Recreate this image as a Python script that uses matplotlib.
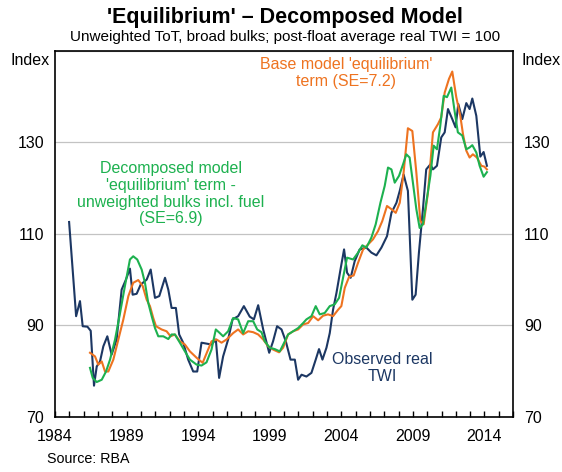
import matplotlib
matplotlib.use("Agg")
import matplotlib.pyplot as plt
from matplotlib.ticker import FixedLocator, FuncFormatter

plt.rcParams['font.family'] = ['Liberation Sans', 'DejaVu Sans']

# Observed real TWI
twi_years = [1984.98, 1985.47, 1985.74, 1985.93, 1986.26, 1986.49, 1986.72, 1986.91,
             1987.14, 1987.37, 1987.65, 1987.95, 1988.30, 1988.65, 1988.95, 1989.23,
             1989.42, 1989.70, 1989.98, 1990.40, 1990.68, 1990.98, 1991.28, 1991.68,
             1991.91, 1992.14, 1992.44, 1992.67, 1992.95, 1993.30, 1993.65, 1993.93,
             1994.23, 1994.58, 1994.93, 1995.23, 1995.46, 1995.74, 1996.09, 1996.40,
             1996.79, 1997.19, 1997.60, 1997.89, 1998.19, 1998.54, 1998.96, 1999.23,
             1999.51, 1999.82, 2000.12, 2000.45, 2000.75, 2000.98, 2001.22, 2001.56,
             2001.91, 2002.21, 2002.44, 2002.68, 2002.96, 2003.19, 2003.42, 2003.66,
             2003.94, 2004.19, 2004.40, 2004.65, 2004.93, 2005.28, 2005.75, 2006.10,
             2006.45, 2006.80, 2007.19, 2007.50, 2007.85, 2008.08, 2008.35, 2008.65,
             2008.96, 2009.19, 2009.42, 2009.70, 2009.93, 2010.22, 2010.40, 2010.68,
             2010.98, 2011.22, 2011.45, 2011.75, 2011.98, 2012.17, 2012.45, 2012.73,
             2012.96, 2013.15, 2013.43, 2013.71, 2013.94, 2014.17]
twi_vals = [112.6, 92.0, 95.3, 89.8, 89.7, 88.8, 76.8, 81.0,
            82.1, 85.4, 87.6, 83.6, 86.9, 97.8, 100.0, 102.4,
            96.7, 96.9, 98.9, 100.0, 102.2, 96.0, 96.4, 100.4,
            97.8, 93.8, 93.8, 88.0, 86.2, 82.5, 79.9, 79.9,
            86.2, 86.0, 85.8, 86.9, 78.5, 83.2, 86.9, 91.3,
            92.0, 94.2, 91.9, 91.3, 94.4, 89.1, 84.0, 86.5,
            89.8, 89.1, 86.5, 82.5, 82.5, 78.1, 79.2, 78.8,
            79.6, 82.5, 84.8, 82.5, 85.1, 88.3, 93.4, 97.1,
            102.2, 106.6, 101.5, 100.4, 104.0, 106.6, 107.0, 105.9,
            105.3, 107.0, 109.5, 114.6, 116.8, 119.4, 123.0, 119.4,
            95.6, 96.7, 105.9, 115.4, 124.1, 125.2, 124.1, 124.9,
            131.1, 132.2, 137.3, 135.1, 133.3, 138.4, 135.1, 138.6,
            137.3, 139.6, 135.8, 126.9, 127.9, 124.9]

# Base model 'equilibrium' term
base_years = [1986.44, 1986.79, 1987.02, 1987.26, 1987.49, 1987.72, 1988.07, 1988.42,
              1988.77, 1989.12, 1989.46, 1989.81, 1990.12, 1990.40, 1990.63, 1990.86,
              1991.05, 1991.44, 1991.79, 1992.07, 1992.37, 1992.72, 1993.07, 1993.42,
              1993.89, 1994.31, 1994.93, 1995.28, 1995.63, 1995.98, 1996.44, 1996.79,
              1997.14, 1997.49, 1997.84, 1998.19, 1998.54, 1998.89, 1999.23, 1999.65,
              1999.93, 2000.28, 2000.63, 2000.98, 2001.33, 2001.68, 2002.03, 2002.38,
              2002.72, 2003.07, 2003.42, 2003.77, 2004.00, 2004.24, 2004.54, 2004.86,
              2005.17, 2005.52, 2005.87, 2006.21, 2006.56, 2006.86, 2007.19, 2007.50,
              2007.80, 2008.08, 2008.35, 2008.65, 2008.96, 2009.24, 2009.52, 2009.75,
              2010.05, 2010.40, 2010.75, 2010.98, 2011.22, 2011.52, 2011.75, 2012.03,
              2012.31, 2012.50, 2012.73, 2012.96, 2013.19, 2013.47, 2013.78, 2014.00,
              2014.17]
base_vals = [84.0, 83.2, 81.4, 82.1, 79.9, 79.9, 82.5, 86.9,
             91.3, 96.4, 99.3, 99.9, 98.6, 95.6, 94.2, 91.6,
             89.8, 89.1, 88.7, 87.6, 88.0, 86.5, 85.8, 84.3,
             82.9, 81.8, 86.5, 86.9, 86.2, 86.9, 88.3, 89.1,
             88.0, 88.7, 88.5, 88.0, 86.9, 85.4, 84.7, 84.1,
             85.1, 88.0, 88.7, 89.1, 90.2, 90.5, 92.0, 91.1,
             92.1, 92.4, 92.0, 93.4, 94.2, 98.2, 100.6, 100.9,
             103.7, 106.6, 107.7, 108.8, 110.6, 112.8, 116.1, 115.4,
             114.6, 116.8, 123.4, 133.1, 132.5, 123.4, 112.8, 112.1,
             119.0, 132.2, 134.0, 135.5, 140.9, 143.9, 145.5, 139.9,
             135.8, 131.8, 128.2, 126.7, 127.4, 126.7, 124.9, 124.7,
             124.1]

# Decomposed model 'equilibrium' term - unweighted bulks incl. fuel
dec_years = [1986.44, 1986.63, 1986.91, 1987.26, 1987.56, 1987.84, 1988.19, 1988.54,
             1988.88, 1989.23, 1989.46, 1989.74, 1990.05, 1990.28, 1990.51, 1990.75,
             1990.98, 1991.21, 1991.56, 1991.91, 1992.14, 1992.37, 1992.72, 1993.07,
             1993.42, 1993.89, 1994.23, 1994.58, 1994.93, 1995.23, 1995.51, 1995.74,
             1996.09, 1996.44, 1996.79, 1997.14, 1997.49, 1997.84, 1998.12, 1998.42,
             1998.65, 1999.00, 1999.35, 1999.70, 2000.05, 2000.28, 2000.63, 2000.98,
             2001.33, 2001.56, 2001.91, 2002.21, 2002.49, 2002.84, 2003.19, 2003.54,
             2003.84, 2004.12, 2004.40, 2004.82, 2005.17, 2005.47, 2005.75, 2006.10,
             2006.40, 2006.73, 2007.03, 2007.26, 2007.50, 2007.73, 2008.03, 2008.31,
             2008.54, 2008.77, 2009.00, 2009.24, 2009.47, 2009.70, 2009.93, 2010.22,
             2010.45, 2010.68, 2010.91, 2011.15, 2011.38, 2011.68, 2011.91, 2012.14,
             2012.45, 2012.73, 2012.96, 2013.15, 2013.43, 2013.66, 2013.94, 2014.17]
dec_vals = [80.7, 78.5, 77.6, 78.1, 79.9, 82.5, 86.9, 92.7,
            98.6, 104.4, 105.1, 104.4, 102.2, 99.3, 94.9, 92.0,
            89.4, 87.6, 87.6, 87.0, 88.0, 88.0, 86.2, 84.3,
            82.5, 81.4, 81.2, 81.9, 84.7, 89.1, 88.3, 87.6,
            88.7, 91.6, 91.3, 88.3, 90.9, 90.9, 89.1, 88.5,
            86.5, 85.1, 84.8, 84.3, 86.5, 88.0, 88.7, 89.4,
            90.5, 91.3, 92.0, 94.2, 92.4, 92.7, 94.2, 94.6,
            96.0, 100.4, 104.8, 104.4, 105.9, 107.5, 107.0, 109.2,
            112.1, 116.8, 120.5, 124.5, 124.1, 121.2, 122.7, 125.2,
            127.4, 126.7, 121.2, 115.4, 111.3, 112.1, 116.8, 122.7,
            129.3, 128.5, 133.6, 140.2, 139.9, 142.0, 136.9, 132.2,
            131.5, 128.5, 128.9, 129.4, 127.8, 124.9, 122.5, 123.5]

year_labels = [1984, 1989, 1994, 1999, 2004, 2009, 2014]
y_ticks = [70, 90, 110, 130, 150]

navy = '#1c3763'
orange = '#ee7320'
green = '#1db14f'

fig = plt.figure(figsize=(5.62, 4.72), dpi=100)
ax = fig.add_axes([0.098, 0.117, 0.815, 0.775])

ax.plot(twi_years, twi_vals, color=navy, lw=1.5)
ax.plot(base_years, base_vals, color=orange, lw=1.5)
ax.plot(dec_years, dec_vals, color=green, lw=1.5)

ax.set_xlim(1984, 2016)
ax.set_ylim(70, 150)

# gridlines only at the labelled levels
ax.set_yticks(y_ticks)
ax.yaxis.grid(True, color='#c3c3c3', lw=0.9)
ax.set_axisbelow(True)
ax.tick_params(axis='y', length=0, labelsize=11.5, pad=8, labelleft=True, labelright=True)
ax.set_yticklabels([str(v) if v < 150 else '' for v in y_ticks])

ax.xaxis.set_major_locator(FixedLocator(range(1984, 2017)))
ax.xaxis.set_major_formatter(FuncFormatter(lambda v, p: str(int(v)) if int(v) in year_labels else ''))
ax.tick_params(axis='x', direction='in', length=4, width=1, labelsize=11.5, pad=9)

for s in ax.spines.values():
    s.set_linewidth(1.2)

ax.text(2004.35, 145.2, "Base model 'equilibrium'\nterm (SE=7.2)", color=orange,
        fontsize=11.5, ha='center', va='center', linespacing=1.15)
ax.text(1992.07, 118.8, "Decomposed model\n'equilibrium' term -\nunweighted bulks incl. fuel\n(SE=6.9)",
        color=green, fontsize=11.5, ha='center', va='center', linespacing=1.15)
ax.text(2006.86, 80.7, "Observed real\nTWI", color=navy, fontsize=11.5,
        ha='center', va='center', linespacing=1.15)

fig.text(0.507, 0.963, "'Equilibrium' – Decomposed Model", fontsize=15.5,
         fontweight='bold', ha='center', va='center')
fig.text(0.507, 0.921, "Unweighted ToT, broad bulks; post-float average real TWI = 100",
         fontsize=11, ha='center', va='center')
fig.text(0.053, 0.872, "Index", fontsize=11.5, ha='center', va='center')
fig.text(0.962, 0.872, "Index", fontsize=11.5, ha='center', va='center')
fig.text(0.083, 0.028, "Source: RBA", fontsize=10.3, ha='left', va='center')

fig.savefig('out.png', dpi=100)
